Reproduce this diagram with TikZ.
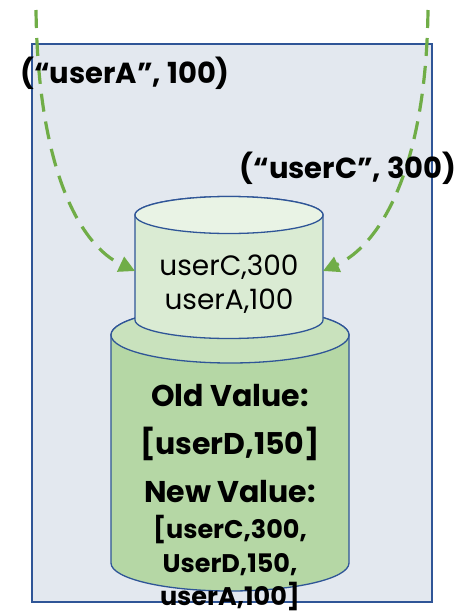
\documentclass[tikz,border=0pt]{standalone}
\usepackage{fontspec}
\setmainfont{Poppins}
\usetikzlibrary{arrows.meta}

\definecolor{frameblue}{HTML}{2F5597}
\definecolor{panelfill}{HTML}{E3E8EF}
\definecolor{flowgreen}{HTML}{70AD47}
\definecolor{cachebody}{HTML}{DAEBD3}
\definecolor{cachetop}{HTML}{E9F3E5}
\definecolor{storebody}{HTML}{B5D7A5}
\definecolor{storetop}{HTML}{C9E2BD}

\tikzset{
  panel/.style={draw=frameblue, line width=1.3pt, fill=panelfill},
  drum/.style={draw=frameblue, line width=1.3pt},
  flow/.style={draw=flowgreen, line width=3.2pt, dash pattern=on 18pt off 10pt,
               -{Triangle[length=16pt,width=16pt]}},
  lbl/.style={inner sep=0pt, anchor=base, font=\bfseries\fontsize{29}{34}\selectfont},
  cachetxt/.style={inner sep=0pt, anchor=base, font=\fontsize{28}{33}\selectfont},
  headtxt/.style={inner sep=0pt, anchor=base, font=\bfseries\fontsize{30}{36}\selectfont},
  listtxt/.style={inner sep=0pt, anchor=base, font=\bfseries\fontsize{25.5}{30}\selectfont},
}

\begin{document}
\begin{tikzpicture}[x=1pt, y=1pt]
  \useasboundingbox (0,0) rectangle (456,-613);

  % operator panel
  \draw[panel] (32,-44) rectangle (432,-602);

  % state store (large drum)
  \path[drum, fill=storebody] (111,-335) -- (111,-563)
    arc[start angle=180, end angle=360, x radius=119pt, y radius=28pt]
    -- (349,-335)
    arc[start angle=0, end angle=180, x radius=119pt, y radius=28pt] -- cycle;
  \draw[drum, fill=storetop] (230,-335) ellipse[x radius=119pt, y radius=28pt];

  % cache (small drum)
  \path[drum, fill=cachebody] (135,-215) -- (135,-320)
    arc[start angle=180, end angle=360, x radius=94pt, y radius=18.5pt]
    -- (323,-215)
    arc[start angle=0, end angle=180, x radius=94pt, y radius=18.5pt] -- cycle;
  \draw[drum, fill=cachetop] (229,-215) ellipse[x radius=94pt, y radius=18.5pt];

  % connector end points
  \coordinate (srcA) at (36,-10);
  \coordinate (srcC) at (428,-10);
  \coordinate (cacheL) at (135,-271);
  \coordinate (cacheR) at (323,-271);

  % incoming records
  \draw[flow] (srcA) .. controls (38,-170) and (80,-245) .. (cacheL);
  \draw[flow] (srcC) .. controls (426,-170) and (380,-245) .. (cacheR);

  % record labels
  \node[lbl] (recA) at (125,-83) {(“userA”, 100)};
  \node[lbl] (recC) at (348,-178) {(“userC”, 300)};

  % cache contents
  \node[cachetxt] (cache1) at (229,-275) {userC,300};
  \node[cachetxt] (cache2) at (229,-309) {userA,100};

  % store contents
  \node[headtxt] (oldh) at (230,-406) {Old Value:};
  \node[headtxt] (oldv) at (230,-454) {[userD,150]};
  \node[headtxt] (newh) at (230,-502) {New Value:};
  \node[listtxt] (new1) at (230,-538) {[userC,300,};
  \node[listtxt] (new2) at (230,-572) {UserD,150,};
  \node[listtxt] (new3) at (230,-605) {userA,100]};
\end{tikzpicture}
\end{document}
